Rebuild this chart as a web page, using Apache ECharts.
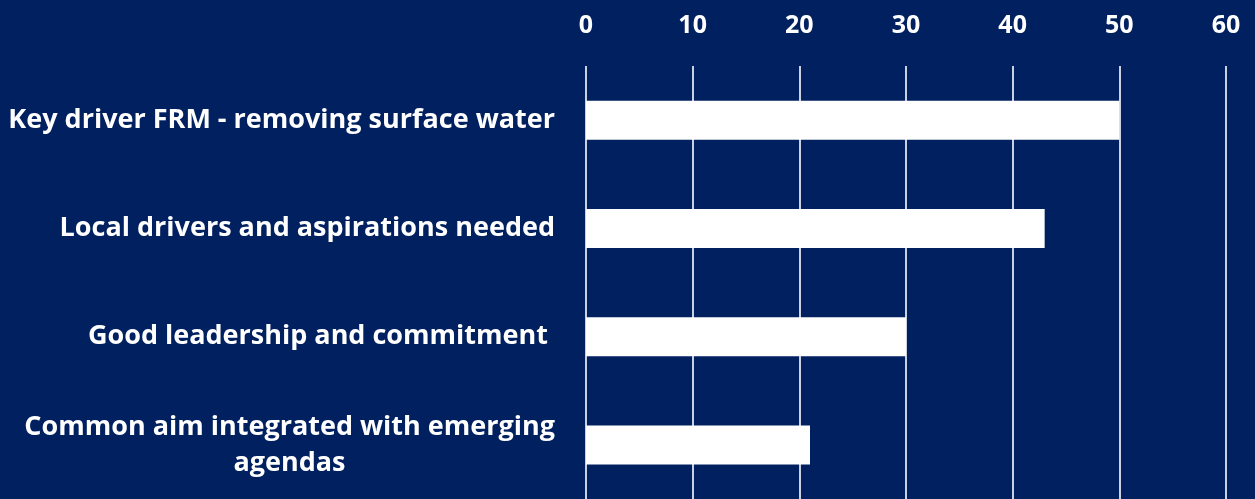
<!DOCTYPE html>
<html><head><meta charset="utf-8">
<script src="https://cdn.jsdelivr.net/npm/echarts@6/dist/echarts.min.js"></script>
<style>html,body{margin:0;padding:0;background:#002060;}#c{width:1255px;height:499px;}</style>
</head><body><div id="c"></div>
<script>
const categories = [
  "Key driver FRM - removing surface water",
  "Local drivers and aspirations needed",
  "Good leadership and commitment ",
  "Common aim integrated with emerging\nagendas"
];
const values = [50, 43, 30, 21];
const xTicks = [0, 10, 20, 30, 40, 50, 60];

const FONT = 'Open Sans';
const FS = 27;
const TFS = 25;
const cv = document.createElement('canvas').getContext('2d');
cv.font = 'bold ' + FS + 'px "' + FONT + '"';

const chart = echarts.init(document.getElementById('c'));
chart.setOption({
  backgroundColor: '#002060',
  animation: false,
  grid: { left: 586, right: 29, top: 66, height: 438, containLabel: false },
  xAxis: {
    type: 'value', position: 'top', min: xTicks[0], max: xTicks[xTicks.length - 1], interval: 10,
    axisLine: { show: false }, axisTick: { show: false },
    axisLabel: { color: '#ffffff', fontFamily: FONT, fontWeight: 'bold', fontSize: TFS, margin: 28 },
    splitLine: { show: true, lineStyle: { color: '#c9d0e0', width: 2 } }
  },
  yAxis: {
    type: 'category', inverse: true, data: categories,
    axisLine: { show: false }, axisTick: { show: false },
    axisLabel: {
      color: '#ffffff', fontFamily: FONT, fontWeight: 'bold', fontSize: FS, margin: 31, lineHeight: 36,
      formatter: function (v) {
        const parts = v.split('\n');
        if (parts.length === 1) return v;
        return parts[0] + '\n{c|' + parts[1] + '}';
      },
      rich: {
        c: { color: '#ffffff', fontFamily: FONT, fontWeight: 'bold', fontSize: FS, lineHeight: 36,
             width: Math.ceil(cv.measureText("Common aim integrated with emerging").width), align: 'center' }
      }
    }
  },
  series: [{
    type: 'bar', data: values, barWidth: 39,
    itemStyle: { color: '#ffffff' }
  }]
});
</script></body></html>
